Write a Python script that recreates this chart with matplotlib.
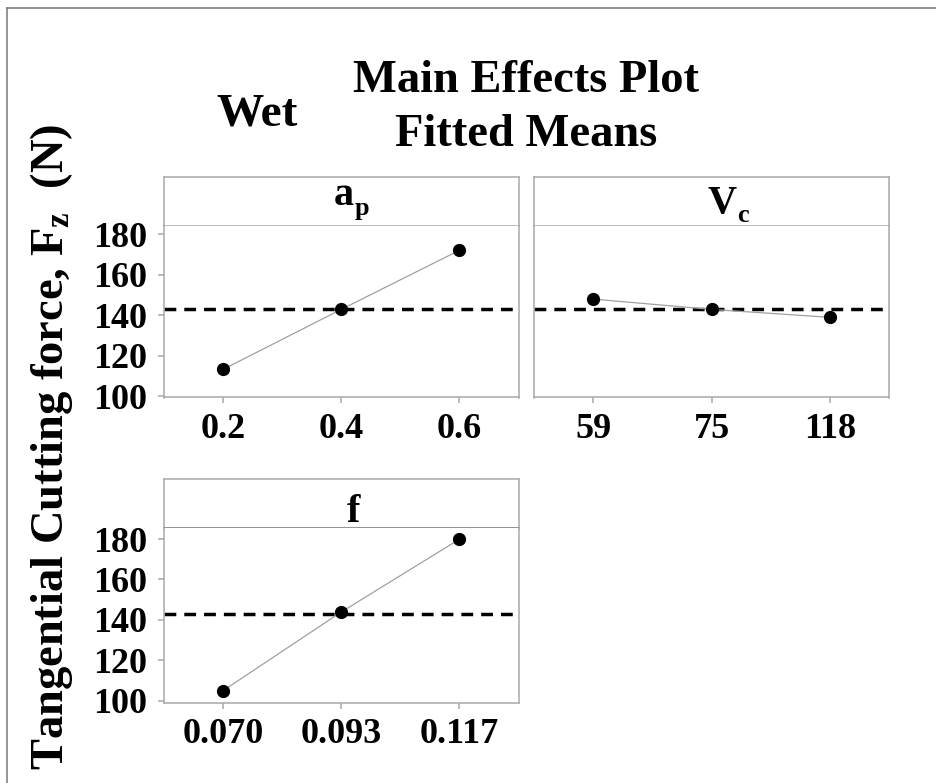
import matplotlib
matplotlib.use('Agg')
import matplotlib.pyplot as plt
from matplotlib.lines import Line2D

plt.rcParams['font.family'] = ['Liberation Serif', 'DejaVu Serif']
plt.rcParams['font.weight'] = 'bold'
plt.rcParams['mathtext.fontset'] = 'custom'
plt.rcParams['mathtext.rm'] = 'Liberation Serif:bold'
plt.rcParams['mathtext.bf'] = 'Liberation Serif:bold'
plt.rcParams['mathtext.it'] = 'Liberation Serif:bold'

# ---------- Dados ---------- #
ap_labels = ['0.2', '0.4', '0.6']
ap_means = [113.2, 142.8, 172.0]

vc_labels = ['59', '75', '118']
vc_means = [147.9, 142.8, 138.9]

f_labels = ['0.070', '0.093', '0.117']
f_means = [105.0, 143.9, 179.9]

media_geral = 142.8
y_ticks = [100, 120, 140, 160, 180]

W, H = 936, 783
fig = plt.figure(figsize=(W / 100, H / 100), dpi=100)

SPINE = '#a8a8a8'

def px_box(left, right, top, bottom):
    return [left / W, 1 - bottom / H, (right - left) / W, (bottom - top) / H]

def fx(x):
    return x / W

def fy(y):
    return 1 - y / H

def painel(left, right, top_strip, top, bottom, labels, valores, ylim, mostra_y, strip_cor=SPINE):
    # faixa do título
    sax = fig.add_axes(px_box(left, right, top_strip, top))
    sax.set_xticks([]); sax.set_yticks([])
    for s in sax.spines.values():
        s.set_color(SPINE); s.set_linewidth(1.1)
    sax.spines['bottom'].set_color(strip_cor)

    ax = fig.add_axes(px_box(left, right, top, bottom))
    x = range(len(valores))
    ax.plot(x, valores, color='#a0a0a0', lw=0.9, zorder=2)
    ax.plot(x, valores, 'o', color='black', ms=8.5, zorder=3)
    ax.axhline(media_geral, color='black', lw=2.5, linestyle=(0, (3.4, 2.3)), zorder=1)
    ax.set_xlim(-0.5, 2.5)
    ax.set_ylim(*ylim)
    ax.set_xticks(list(x))
    ax.set_xticklabels(labels)
    ax.set_yticks(y_ticks)
    if not mostra_y:
        ax.set_yticklabels([])
    for s in ax.spines.values():
        s.set_color(SPINE); s.set_linewidth(1.1)
    ax.spines['top'].set_visible(False)
    ax.tick_params(axis='both', colors=SPINE, length=4, width=1.1, labelcolor='black',
                   labelsize=26)
    ax.tick_params(axis='y', pad=8)
    ax.tick_params(axis='x', pad=7)
    if not mostra_y:
        ax.tick_params(axis='y', length=0)
    return ax

painel(164, 518.5, 177, 226, 397.5, ap_labels, ap_means, (99.3, 184), True)
painel(534, 889, 177, 226, 397.5, vc_labels, vc_means, (99.3, 184), False)
painel(164, 518.5, 479.3, 528.3, 703, f_labels, f_means, (98.9, 185.3), True,
       strip_cor='#777777')

# títulos das faixas (letra + subscrito)
fig.text(fx(334), fy(205), 'a', ha='left', va='baseline', fontsize=29, fontweight='bold')
fig.text(fx(355), fy(215), 'p', ha='left', va='baseline', fontsize=19, fontweight='bold')
fig.text(fx(707), fy(213), 'V', ha='left', va='baseline', fontsize=29, fontweight='bold')
fig.text(fx(737), fy(222), 'c', ha='left', va='baseline', fontsize=19, fontweight='bold')
fig.text(fx(347), fy(522), 'f', ha='left', va='baseline', fontsize=29, fontweight='bold')

# Títulos
fig.text(fx(526), fy(92), 'Main Effects Plot', ha='center', va='baseline',
         fontsize=33.5, fontweight='bold')
fig.text(fx(526), fy(146), 'Fitted Means', ha='center', va='baseline',
         fontsize=33.5, fontweight='bold')
fig.text(fx(257), fy(126), 'Wet', ha='center', va='baseline',
         fontsize=34, fontweight='bold')

fig.text(fx(52), fy(447), r'Tangential Cutting force, $\mathbf{F_z}$  (N)', rotation=90,
         ha='center', va='center', fontsize=33.5, fontweight='bold')

# moldura
fig.add_artist(Line2D([fx(7.5), 1], [fy(7.5), fy(7.5)], transform=fig.transFigure,
                      color='#777777', lw=1.1))
fig.add_artist(Line2D([fx(7.5), fx(7.5)], [0, fy(7.5)], transform=fig.transFigure,
                      color='#777777', lw=1.1))

fig.savefig('out.png', dpi=100, facecolor='white')
